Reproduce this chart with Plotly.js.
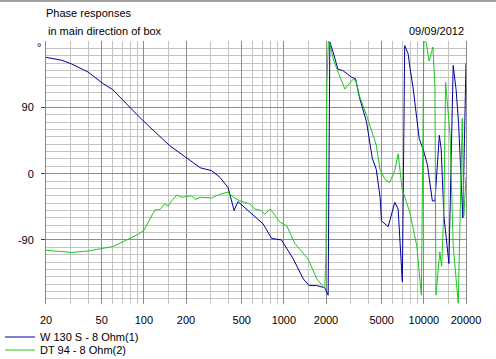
<!DOCTYPE html>
<html>
<head>
<meta charset="utf-8">
<script src="https://cdn.plot.ly/plotly-3.0.1.min.js"></script>
<style>html,body{margin:0;padding:0;background:#fff;}#chart{width:496px;height:359px;}</style>
</head>
<body>
<div id="chart"></div>
<script>
// Series 1: W 130 S - 8 Ohm(1)
const blueFreq = [20, 26, 30.5, 40, 50.5, 60, 70, 79, 89.5, 100, 120, 153, 200, 253, 305, 350, 400, 441, 470, 570, 710, 818, 961, 1169, 1378, 1518, 1715, 1963, 2072, 2130, 2250, 2430, 2640, 3050, 3250, 3460, 3900, 4280, 4570, 4870, 4980, 5560, 6200, 6550, 7020, 7300, 7720, 7940, 8400, 8900, 9260, 10000, 10600, 11500, 12000, 12900, 13300, 13900, 15100, 16200, 17000, 17700, 19000, 20000];
const bluePhase = [158, 154, 149, 138, 123, 114, 101, 90, 80, 71, 57, 38, 22, 8, 4, -5, -19, -50, -38, -52, -68, -88, -90, -116, -143, -152, -152, -155, -165, 179, 165, 142, 140, 131, 129, 104, 70, 21, 6, -32, -64, -72, -39, -48, -147, 174, 163, 145, 115, 75, 48, 30, 12, -37, -37, 52, 33, -57, -122, 147, 114, 69, -60, 150];

// Series 2: DT 94 - 8 Ohm(2)
const greenFreq = [20, 30.5, 40, 50.5, 60, 70, 79, 89.5, 100, 120, 130, 141, 149, 158, 172, 186, 220, 232, 253, 305, 350, 400, 435, 485, 570, 620, 690, 730, 800, 940, 1050, 1200, 1490, 1720, 1960, 2000, 2030, 2080, 2135, 2250, 2460, 2730, 3150, 3300, 3460, 3900, 4570, 4870, 5300, 5700, 6200, 6550, 7000, 7950, 8900, 9600, 10000, 10400, 10900, 11600, 12000, 12200, 13000, 13400, 13900, 14300, 15400, 16200, 17600, 18800, 19300, 20000];
const greenPhase = [-104, -107, -105, -102, -99, -93, -88, -83, -77, -49, -49, -41, -44, -37, -29, -32, -30, -35, -32, -33, -28, -25, -32, -37, -41, -48, -50, -55, -48, -66, -71, -95, -116, -143, -156, -106, 122, 180, 176, 156, 136, 115, 129, 124, 106, 79, 39, 5, -8, -12, 4, 27, -21, -53, -98, -165, 180, 178, 153, 172, 120, -165, -106, -126, -48, 124, 52, -98, -176, 75, -57, -5];

const seriesNames = ["W 130 S - 8 Ohm(1)", "DT 94 - 8 Ohm(2)"];
const xTickVals = [20, 50, 100, 200, 500, 1000, 2000, 5000, 10000, 20000];
const xTickText = ["20", "50", "100", "200", "500", "1000", "2000", "5000", "10000", "20000"];
const xMinorVals = [30, 40, 60, 70, 80, 90, 150, 300, 400, 600, 700, 800, 900, 1500, 3000, 4000, 6000, 7000, 8000, 9000, 15000];
const yTickVals = [-90, 0, 90];
const yTickText = ["-90", "0", "90"];
const yMinorVals = [-170, -160, -150, -140, -130, -120, -110, -100, -80, -70, -60, -50, -40, -30, -20, -10, 10, 20, 30, 40, 50, 60, 70, 80, 100, 110, 120, 130, 140, 150, 160, 170, 180];

const FONT = "Liberation Sans, Arial, sans-serif";

const traces = [
  {x: blueFreq, y: bluePhase, name: seriesNames[0], type: "scatter", mode: "lines",
   line: {color: "#00009c", width: 1}, legend: "legend"},
  {x: greenFreq, y: greenPhase, name: seriesNames[1], type: "scatter", mode: "lines",
   line: {color: "#1ec81e", width: 1}, legend: "legend2"}
];

const legendBase = {xref: "container", x: 0, xanchor: "left", yref: "container", yanchor: "middle",
  bgcolor: "rgba(0,0,0,0)", borderwidth: 0, font: {family: FONT, size: 11, color: "#000"}};

const layout = {
  width: 496, height: 359,
  margin: {l: 46, r: 30, t: 41, b: 55, pad: 0, autoexpand: false},
  paper_bgcolor: "#ffffff", plot_bgcolor: "#ffffff",
  font: {family: FONT, size: 11, color: "#000000"},
  title: {text: "Phase responses", font: {family: FONT, size: 11, color: "#000"},
          xref: "paper", x: 0, xanchor: "left", yref: "container", y: 1 - 13/359, yanchor: "middle"},
  showlegend: true,
  legend: Object.assign({}, legendBase, {y: 1 - 337/359}),
  legend2: Object.assign({}, legendBase, {y: 1 - 350/359}),
  xaxis: {
    type: "log", range: [Math.log10(20), Math.log10(20000)],
    tickmode: "array", tickvals: xTickVals, ticktext: xTickText,
    showgrid: true, gridcolor: "#8c8c8c", gridwidth: 1,
    ticks: "", showline: false, zeroline: false,
    ticklabelstandoff: 8,
    tickfont: {family: FONT, size: 11, color: "#000"},
    minor: {tickvals: xMinorVals, showgrid: true, gridcolor: "#c4c4c4", gridwidth: 1, ticks: ""},
    fixedrange: true, automargin: false
  },
  yaxis: {
    range: [-177, 180.2],
    tickmode: "array", tickvals: yTickVals, ticktext: yTickText,
    showgrid: true, gridcolor: "#8c8c8c", gridwidth: 1,
    ticks: "outside", ticklen: 4, tickcolor: "#404040",
    showline: true, mirror: true, linecolor: "#8c8c8c", linewidth: 1,
    zeroline: false, ticklabelstandoff: 5,
    tickfont: {family: FONT, size: 11, color: "#000"},
    minor: {tickvals: yMinorVals, showgrid: true, gridcolor: "#c4c4c4", gridwidth: 1, ticks: ""},
    fixedrange: true, automargin: false
  },
  annotations: [
    {text: "in main direction of box", xref: "paper", x: 0, xanchor: "left",
     yref: "paper", y: 1 + 10/263, yanchor: "middle", showarrow: false,
     font: {family: FONT, size: 11, color: "#000"}},
    {text: "09/09/2012", xref: "paper", x: 1, xanchor: "right",
     yref: "paper", y: 1 + 10/263, yanchor: "middle", showarrow: false,
     font: {family: FONT, size: 11, color: "#000"}},
    {text: "°", xref: "paper", x: -7/420, xanchor: "center",
     yref: "paper", y: 1 + 2/263, yanchor: "top", showarrow: false,
     font: {family: FONT, size: 11, color: "#000"}}
  ],
  shapes: [
    {type: "line", xref: "paper", yref: "paper", x0: -46/420, x1: 1 + 30/420,
     y0: 1 + 40/263, y1: 1 + 40/263, line: {color: "#a0a0a0", width: 2}}
  ]
};

Plotly.newPlot("chart", traces, layout, {displayModeBar: false, staticPlot: true});
</script>
</body>
</html>
